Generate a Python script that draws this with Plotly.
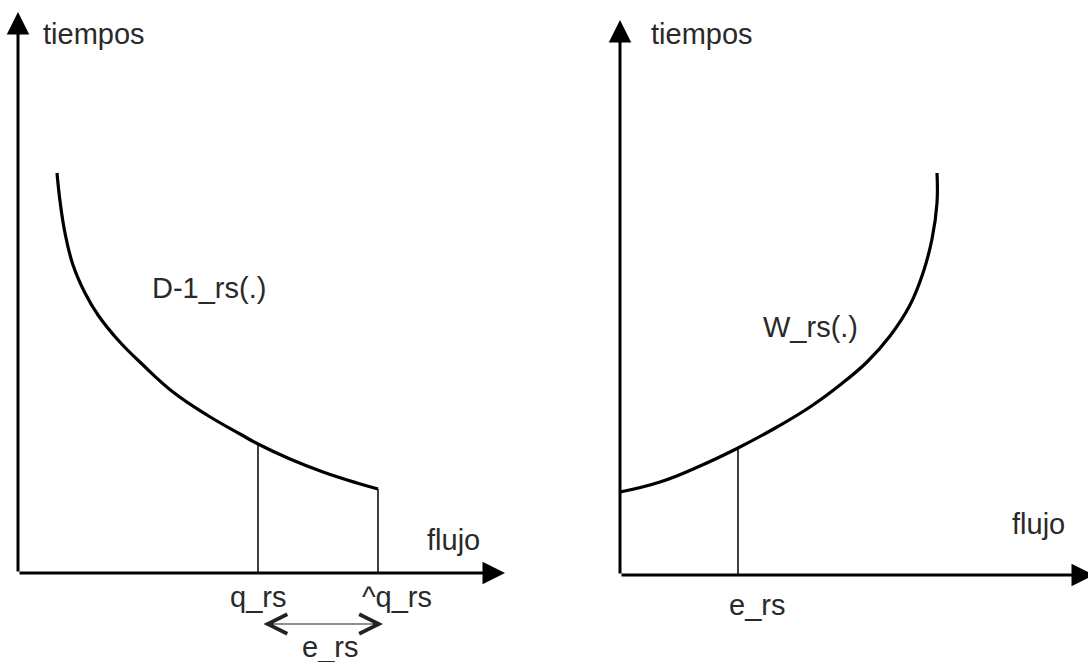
import plotly.graph_objects as go

# ---- data (arbitrary units: flujo on x, tiempos on y) ----
# Left panel: inverse demand curve D-1_rs(.)
demand_flujo = [3.9, 4.2, 4.7, 5.5, 6.7, 8.0, 10.0, 12.5, 15.5, 18.9, 22.2, 24.0, 27.2, 30.5, 33.9, 36.0]
demand_tiempos = [40.0, 37.2, 34.0, 30.8, 28.0, 25.8, 23.3, 20.8, 18.1, 15.8, 13.9, 12.9, 11.4, 10.1, 9.0, 8.4]
q_rs = 24.0
q_rs_hat = 36.0

# Right panel: cost curve W_rs(.)
cost_flujo = [0.0, 4.0, 8.0, 11.8, 15.7, 19.0, 22.0, 24.7, 27.0, 29.0, 30.3, 31.2, 31.7, 31.7]
cost_tiempos = [8.3, 9.3, 10.9, 12.7, 14.8, 16.8, 19.0, 21.3, 23.9, 27.0, 30.2, 33.6, 37.2, 40.2]
e_rs = 11.8

left_axis_tip = (48.7, 56.1)
right_axis_tip = (47.4, 55.5)

FONT = dict(family="Liberation Sans, Arial, sans-serif", size=29, color="#2a2a2a")
BLACK = "#000000"


def value_at(xs, ys, xv):
    for i in range(len(xs) - 1):
        if xs[i] <= xv <= xs[i + 1]:
            t = (xv - xs[i]) / (xs[i + 1] - xs[i]) if xs[i + 1] != xs[i] else 0
            return ys[i] + t * (ys[i + 1] - ys[i])
    return ys[-1]


fig = go.Figure()

# curves
fig.add_trace(go.Scatter(x=demand_flujo, y=demand_tiempos, mode="lines",
                         line=dict(color=BLACK, width=3.2, shape="spline", smoothing=1.2),
                         xaxis="x", yaxis="y", hoverinfo="skip"))
fig.add_trace(go.Scatter(x=cost_flujo, y=cost_tiempos, mode="lines",
                         line=dict(color=BLACK, width=3.2, shape="spline", smoothing=1.2),
                         xaxis="x2", yaxis="y2", hoverinfo="skip"))

# vertical drop lines
for xv in (q_rs, q_rs_hat):
    yv = value_at(demand_flujo, demand_tiempos, xv)
    fig.add_trace(go.Scatter(x=[xv, xv], y=[0, yv], mode="lines",
                             line=dict(color=BLACK, width=1.5),
                             xaxis="x", yaxis="y", hoverinfo="skip"))
yv = value_at(cost_flujo, cost_tiempos, e_rs)
fig.add_trace(go.Scatter(x=[e_rs, e_rs], y=[0, yv], mode="lines",
                         line=dict(color=BLACK, width=1.5),
                         xaxis="x2", yaxis="y2", hoverinfo="skip"))

annotations = []


def axis_arrow(xref, yref, x, y, ax, ay):
    annotations.append(dict(x=x, y=y, ax=ax, ay=ay, xref=xref, yref=yref,
                            axref=xref, ayref=yref, text="", showarrow=True,
                            arrowhead=2, arrowsize=1.5, arrowwidth=3,
                            arrowcolor=BLACK))


# axes arrows
axis_arrow("x", "y", left_axis_tip[0], 0, 0, 0)
axis_arrow("x", "y", 0, left_axis_tip[1], 0, 0)
axis_arrow("x2", "y2", right_axis_tip[0], 0, 0, 0)
axis_arrow("x2", "y2", 0, right_axis_tip[1], 0, 0)

# double arrow e_rs (left panel)
annotations.append(dict(x=q_rs_hat + 0.5, y=-5.1, ax=q_rs + 0.4, ay=-5.1,
                        xref="x", yref="y", axref="x", ayref="y", text="",
                        showarrow=True, arrowhead=5, startarrowhead=5,
                        arrowside="end+start", arrowsize=3.2, startarrowsize=3.2,
                        arrowwidth=1.2, arrowcolor="#222222"))


def label(text, xref, yref, x, y, xanchor="center"):
    annotations.append(dict(text=text, x=x, y=y, xref=xref, yref=yref,
                            showarrow=False, xanchor=xanchor, yanchor="middle",
                            font=FONT))


label("tiempos", "x", "y", 2.3, 53.9, "left")
label("flujo", "x", "y", 43.5, 3.3)
label("q_rs", "x", "y", q_rs, -2.4)
label("^q_rs", "x", "y", 37.9, -2.4)
label("e_rs", "x", "y", 31.2, -7.4)
label("D-1_rs(.)", "x", "y", 19.1, 28.5)

label("tiempos", "x2", "y2", 2.9, 54.1, "left")
label("flujo", "x2", "y2", 41.8, 5.1)
label("e_rs", "x2", "y2", 13.7, -3.0)
label("W_rs(.)", "x2", "y2", 19.0, 24.8)

hidden = dict(visible=False, showgrid=False, zeroline=False, fixedrange=True)
fig.update_layout(
    width=1088, height=662,
    margin=dict(l=0, r=0, t=0, b=0),
    paper_bgcolor="white", plot_bgcolor="white",
    showlegend=False,
    xaxis=dict(domain=[0, 0.5], range=[-1.8, 52.6], anchor="y", **hidden),
    yaxis=dict(domain=[0, 1], range=[-8.9, 57.3], anchor="x", **hidden),
    xaxis2=dict(domain=[0.5, 1], range=[-7.6, 46.8], anchor="y2", **hidden),
    yaxis2=dict(domain=[0, 1], range=[-8.7, 57.5], anchor="x2", **hidden),
    annotations=annotations,
)

fig.write_html("out.html", config={"displayModeBar": False},
               post_script="document.body.style.margin='0';")
